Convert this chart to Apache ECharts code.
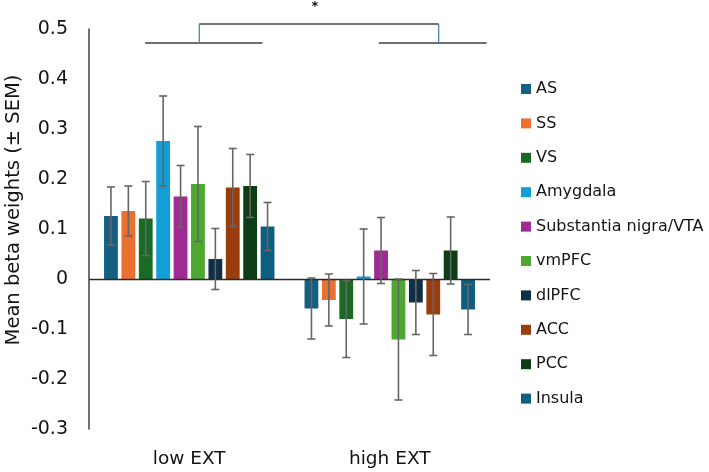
<!DOCTYPE html>
<html>
<head>
<meta charset="utf-8">
<script src="https://cdn.jsdelivr.net/npm/echarts@6/dist/echarts.min.js"></script>
<style>
html,body{margin:0;padding:0;background:#fff;}
#chart{width:709px;height:472px;}
</style>
</head>
<body>
<div id="chart"></div>
<script>
// ---- data ----
const categories = ['low EXT', 'high EXT'];
const regions = ['AS', 'SS', 'VS', 'Amygdala', 'Substantia nigra/VTA', 'vmPFC', 'dlPFC', 'ACC', 'PCC', 'Insula'];
const lowMean  = [0.126, 0.136, 0.121, 0.276, 0.165, 0.190, 0.040, 0.183, 0.186, 0.105];
const lowSem   = [0.058, 0.050, 0.074, 0.090, 0.062, 0.115, 0.061, 0.078, 0.063, 0.048];
const highMean = [-0.059, -0.042, -0.080, 0.005, 0.057, -0.121, -0.047, -0.071, 0.057, -0.061];
const highSem  = [0.061, 0.052, 0.077, 0.095, 0.066, 0.121, 0.064, 0.082, 0.067, 0.050];
const yTicks = [-0.3, -0.2, -0.1, 0, 0.1, 0.2, 0.3, 0.4, 0.5];
const significanceMark = '*';
const yAxisTitle = 'Mean beta weights (± SEM)';

// ---- style ----
const colors = ['#156082', '#EA7030', '#196B24', '#129ED7', '#A02993', '#4EA72E', '#0E2F45', '#993D0E', '#0C3D14', '#0E5E82'];
const FONT = 'DejaVu Sans';
const TEXT = '#141414';
const BAR_GAP = 0.26, CAT_GAP = 0.15;
// bracket annotation (data units; x on a hidden value axis where category i sits at i)
const bracketBaseY = 0.472, bracketTopY = 0.510;
const bracketLowSpan = [-0.22, 0.365], bracketHighSpan = [0.945, 1.483];
const bracketStemX = [0.05, 1.244];
const starPos = [0.627, 0.545];

const chart = echarts.init(document.getElementById('chart'), null, {renderer: 'canvas'});

const means = [lowMean, highMean];
const sems = [lowSem, highSem];

const barSeries = regions.map((r, i) => ({
  name: r,
  type: 'bar',
  xAxisIndex: 0,
  yAxisIndex: 0,
  barGap: (BAR_GAP * 100) + '%',
  barCategoryGap: (CAT_GAP * 100) + '%',
  itemStyle: {color: colors[i]},
  data: categories.map((c, ci) => means[ci][i]),
  markLine: i === 0 ? {
    silent: true, symbol: 'none', label: {show: false},
    lineStyle: {color: '#2b2b2b', width: 1.3, type: 'solid'},
    data: [{yAxis: 0}]
  } : undefined
}));

const errData = [];
categories.forEach((c, ci) => {
  regions.forEach((r, i) => {
    errData.push([ci, i, means[ci][i], sems[ci][i]]);
  });
});

const errSeries = {
  type: 'custom',
  name: 'err',
  xAxisIndex: 0,
  yAxisIndex: 0,
  z: 5,
  data: errData,
  encode: {x: 0, y: 2},
  renderItem: function (params, api) {
    const c = api.value(0), i = api.value(1), m = api.value(2), s = api.value(3);
    const bw = api.size([1, 0])[0];
    const n = regions.length;
    const barW = bw * (1 - CAT_GAP) / (n + (n - 1) * BAR_GAP);
    const total = barW * n + barW * BAR_GAP * (n - 1);
    const cx = api.coord([c, 0])[0] - total / 2 + i * barW * (1 + BAR_GAP) + barW / 2;
    const yT = api.coord([c, m + s])[1];
    const yB = api.coord([c, m - s])[1];
    const cap = 4;
    const st = {stroke: '#666666', lineWidth: 1.6};
    return {
      type: 'group',
      children: [
        {type: 'line', shape: {x1: cx, y1: yT, x2: cx, y2: yB}, style: st},
        {type: 'line', shape: {x1: cx - cap, y1: yT, x2: cx + cap, y2: yT}, style: st},
        {type: 'line', shape: {x1: cx - cap, y1: yB, x2: cx + cap, y2: yB}, style: st}
      ]
    };
  }
};

const bracketSeries = {
  type: 'custom',
  name: 'bracket',
  xAxisIndex: 1,
  yAxisIndex: 0,
  clip: false,
  silent: true,
  data: [[0, 0]],
  renderItem: function (params, api) {
    const p = (x, y) => api.coord([x, y]);
    const gray = {stroke: '#404040', lineWidth: 1.3};
    const blue = {stroke: '#4F81B0', lineWidth: 1.3};
    const l1 = p(bracketLowSpan[0], bracketBaseY), l2 = p(bracketLowSpan[1], bracketBaseY);
    const h1 = p(bracketHighSpan[0], bracketBaseY), h2 = p(bracketHighSpan[1], bracketBaseY);
    const s1b = p(bracketStemX[0], bracketBaseY), s1t = p(bracketStemX[0], bracketTopY);
    const s2b = p(bracketStemX[1], bracketBaseY), s2t = p(bracketStemX[1], bracketTopY);
    const st = p(starPos[0], starPos[1]);
    return {
      type: 'group',
      children: [
        {type: 'line', shape: {x1: l1[0], y1: l1[1], x2: l2[0], y2: l2[1]}, style: gray},
        {type: 'line', shape: {x1: h1[0], y1: h1[1], x2: h2[0], y2: h2[1]}, style: gray},
        {type: 'line', shape: {x1: s1t[0], y1: s1t[1], x2: s2t[0], y2: s2t[1]}, style: gray},
        {type: 'line', shape: {x1: s1b[0], y1: s1b[1], x2: s1t[0], y2: s1t[1]}, style: blue},
        {type: 'line', shape: {x1: s2b[0], y1: s2b[1], x2: s2t[0], y2: s2t[1]}, style: blue},
        {type: 'text', x: st[0], y: st[1], style: {text: significanceMark, font: 'bold 13px "' + FONT + '"', fill: TEXT, align: 'center', verticalAlign: 'middle'}}
      ]
    };
  }
};

const option = {
  animation: false,
  backgroundColor: '#ffffff',
  textStyle: {fontFamily: FONT},
  grid: {left: 89, right: 219, top: 29, bottom: 43, containLabel: false},
  legend: {
    orient: 'vertical',
    left: 521,
    top: 81,
    padding: 0,
    itemWidth: 10,
    itemHeight: 10,
    itemGap: 18.4,
    icon: 'rect',
    data: regions,
    textStyle: {fontFamily: FONT, fontSize: 16, color: TEXT, lineHeight: 16}
  },
  xAxis: [
    {
      type: 'category',
      data: categories,
      position: 'bottom',
      axisLine: {show: false, onZero: false},
      axisTick: {show: false},
      axisLabel: {fontFamily: FONT, fontSize: 18.5, color: TEXT, margin: 21}
    },
    {
      type: 'value', min: -0.5, max: 1.5, show: false
    }
  ],
  yAxis: {
    type: 'value',
    min: yTicks[0],
    max: yTicks[yTicks.length - 1],
    interval: 0.1,
    axisLine: {show: true, onZero: false, lineStyle: {color: '#404040', width: 1.5}},
    axisTick: {show: false},
    splitLine: {show: false},
    axisLabel: {
      fontFamily: FONT, fontSize: 19, color: TEXT, margin: 21,
      formatter: v => Math.abs(v) < 1e-9 ? '0' : v.toFixed(1)
    }
  },
  graphic: [{
    type: 'text',
    x: 14, y: 210,
    rotation: Math.PI / 2,
    style: {text: yAxisTitle, font: '19.5px "' + FONT + '"', fill: TEXT, align: 'center', verticalAlign: 'middle'}
  }],
  series: barSeries.concat([errSeries, bracketSeries])
};

chart.setOption(option);
</script>
</body>
</html>
